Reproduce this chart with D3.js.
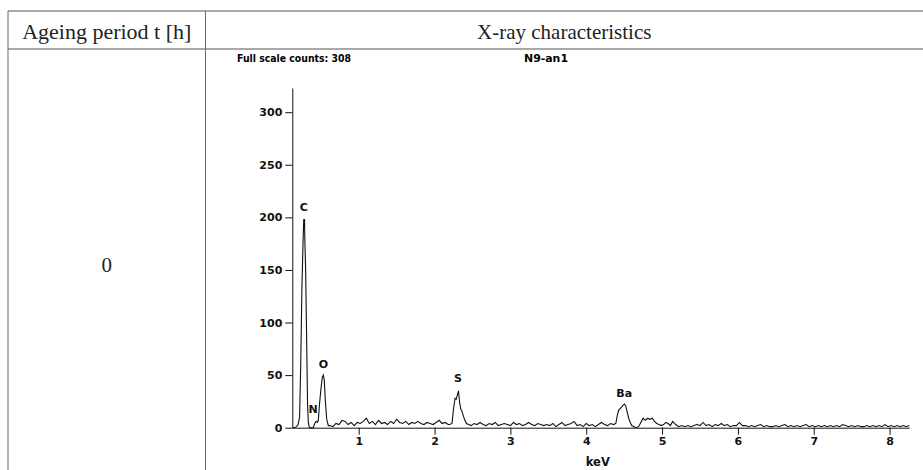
<!DOCTYPE html>
<html>
<head>
<meta charset="utf-8">
<script src="https://cdn.jsdelivr.net/npm/d3@7"></script>
<style>
  html, body { margin: 0; padding: 0; background: #fff; }
  svg { display: block; }
</style>
</head>
<body>
<svg id="chart" width="923" height="470"></svg>
<script>
// ---------- data ----------
const tableHeaders = ["Ageing period t [h]", "X-ray characteristics"];
const ageingPeriod = "0";
const fullScaleCounts = 308;
const sampleName = "N9-an1";

const yTicks = [0, 50, 100, 150, 200, 250, 300];
const xTicks = [1, 2, 3, 4, 5, 6, 7, 8];
const xDomain = [0.124, 8.26];
const yDomain = [0, 323];

// element labels [name, keV, counts at label]
const peakLabels = [
  ["C", 0.275, 206],
  ["N", 0.40, 14],
  ["O", 0.533, 57],
  ["S", 2.31, 43],
  ["Ba", 4.50, 29]
];

// spectrum [keV, counts]
const spectrumLow = [
  [0.124, 0], [0.15, 0], [0.18, 1], [0.20, 3], [0.22, 10], [0.235, 60],
  [0.25, 130], [0.265, 175], [0.275, 198], [0.285, 198], [0.29, 176],
  [0.30, 150], [0.31, 100], [0.318, 60], [0.325, 22], [0.335, 6],
  [0.345, 1], [0.36, 0], [0.38, 0], [0.40, 0], [0.42, 4], [0.437, 6],
  [0.455, 5], [0.467, 7], [0.48, 20], [0.499, 35], [0.52, 48], [0.533, 50],
  [0.546, 45], [0.56, 25], [0.578, 8], [0.599, 2]
];
const spectrumBaseline1 = [
  [0.62, 2], [0.66, 1], [0.70, 4], [0.74, 3], [0.78, 7], [0.82, 6],
  [0.86, 3], [0.90, 5], [0.94, 2], [0.98, 5], [1.02, 4], [1.06, 6],
  [1.10, 9], [1.14, 4], [1.18, 6], [1.22, 3], [1.26, 7], [1.30, 4],
  [1.34, 5], [1.38, 3], [1.42, 6], [1.46, 4], [1.50, 8], [1.54, 5],
  [1.58, 4], [1.62, 6], [1.66, 3], [1.70, 5], [1.74, 4], [1.78, 6],
  [1.82, 4], [1.86, 3], [1.90, 5], [1.94, 4], [1.98, 3], [2.02, 5],
  [2.06, 7], [2.10, 4], [2.14, 5], [2.18, 3]
];
const spectrumSulfur = [
  [2.20, 3], [2.23, 4], [2.25, 18], [2.27, 28], [2.285, 27], [2.30, 31],
  [2.315, 35], [2.33, 24], [2.345, 18], [2.36, 16], [2.38, 11], [2.40, 7],
  [2.42, 4], [2.45, 3]
];
const spectrumBaseline2 = [
  [2.48, 2], [2.52, 4], [2.56, 3], [2.60, 5], [2.64, 3], [2.68, 2],
  [2.72, 4], [2.76, 3], [2.80, 5], [2.84, 2], [2.88, 3], [2.92, 4],
  [2.96, 3], [3.00, 2], [3.04, 5], [3.08, 3], [3.12, 4], [3.16, 2],
  [3.20, 3], [3.24, 5], [3.28, 3], [3.32, 2], [3.36, 4], [3.40, 3],
  [3.44, 2], [3.48, 3], [3.52, 2], [3.56, 4], [3.60, 1], [3.64, 3],
  [3.68, 5], [3.72, 2], [3.76, 3], [3.80, 4], [3.84, 6], [3.88, 2],
  [3.92, 3], [3.96, 1], [4.00, 4], [4.04, 2], [4.08, 3], [4.12, 1],
  [4.16, 3], [4.20, 5], [4.24, 3], [4.28, 2], [4.32, 4], [4.36, 3]
];
const spectrumBarium = [
  [4.39, 4], [4.41, 12], [4.43, 17], [4.46, 19], [4.48, 21], [4.505, 22.5],
  [4.52, 21], [4.54, 15], [4.56, 9], [4.58, 5], [4.60, 2], [4.63, 1],
  [4.66, 0], [4.69, 1], [4.72, 5], [4.75, 9], [4.78, 7], [4.81, 9],
  [4.84, 8], [4.87, 9], [4.90, 6], [4.93, 4], [4.96, 3], [4.99, 2],
  [5.02, 3], [5.05, 5], [5.08, 4], [5.11, 2]
];
const spectrumHigh = [
  [5.14, 6], [5.18, 3], [5.22, 1], [5.26, 2], [5.30, 1], [5.34, 2],
  [5.38, 1], [5.42, 2], [5.46, 3], [5.50, 2], [5.54, 5], [5.58, 2],
  [5.62, 3], [5.66, 1], [5.70, 3], [5.74, 2], [5.78, 4], [5.82, 2],
  [5.86, 3], [5.90, 1], [5.94, 2], [5.98, 2], [6.02, 5], [6.06, 2],
  [6.10, 2], [6.14, 1], [6.18, 2], [6.22, 1], [6.26, 2], [6.30, 3],
  [6.34, 1], [6.38, 2], [6.42, 1], [6.46, 1], [6.50, 2], [6.54, 1],
  [6.58, 2], [6.62, 3], [6.66, 1], [6.70, 2], [6.74, 1], [6.78, 2],
  [6.82, 1], [6.86, 2], [6.90, 3], [6.94, 1], [6.98, 2], [7.02, 1],
  [7.06, 2], [7.10, 1], [7.14, 2], [7.18, 1], [7.22, 2], [7.26, 1],
  [7.30, 2], [7.34, 1], [7.38, 3], [7.42, 2], [7.46, 1], [7.50, 2],
  [7.54, 1], [7.58, 2], [7.62, 1], [7.66, 1], [7.70, 2], [7.74, 1],
  [7.78, 2], [7.82, 1], [7.86, 2], [7.90, 1], [7.94, 3], [7.98, 1],
  [8.02, 2], [8.06, 1], [8.10, 2], [8.14, 1], [8.18, 2], [8.22, 1],
  [8.26, 2]
];

// ---------- drawing ----------
const svg = d3.select("#chart");
const W = 923, H = 470;

// table grid
const tableTop = 11, rowLine = 49, leftX = 8, divX = 205.5;
const grid = svg.append("g");
grid.append("line").attr("x1", leftX).attr("x2", W).attr("y1", tableTop).attr("y2", tableTop)
  .attr("stroke", "#8c8c8c").attr("stroke-width", 1.5);
grid.append("line").attr("x1", leftX).attr("x2", W).attr("y1", rowLine).attr("y2", rowLine)
  .attr("stroke", "#8c8c8c").attr("stroke-width", 1.5);
grid.append("line").attr("x1", leftX).attr("x2", leftX).attr("y1", tableTop).attr("y2", H)
  .attr("stroke", "#6a6a6a").attr("stroke-width", 1);
grid.append("line").attr("x1", divX).attr("x2", divX).attr("y1", tableTop).attr("y2", H)
  .attr("stroke", "#6a6a6a").attr("stroke-width", 1);

const serif = "'Liberation Serif', 'DejaVu Serif', serif";
svg.append("text").attr("x", (leftX + divX) / 2).attr("y", 39)
  .attr("text-anchor", "middle").attr("font-family", serif).attr("font-size", 22)
  .attr("fill", "#222").text(tableHeaders[0]);
svg.append("text").attr("x", (divX + W) / 2).attr("y", 39)
  .attr("text-anchor", "middle").attr("font-family", serif).attr("font-size", 21)
  .attr("fill", "#222").text(tableHeaders[1]);
svg.append("text").attr("x", (leftX + divX) / 2).attr("y", 272)
  .attr("text-anchor", "middle").attr("font-family", serif).attr("font-size", 21)
  .attr("fill", "#222").text(ageingPeriod);

// chart
const sans = "'DejaVu Sans', Verdana, sans-serif";
const x = d3.scaleLinear().domain(xDomain).range([292.3, 909.3]);
const y = d3.scaleLinear().domain(yDomain).range([427.7, 88]);

svg.append("text").attr("x", 237).attr("y", 62)
  .attr("font-family", sans).attr("font-weight", "bold").attr("font-size", 11)
  .attr("textLength", 114).attr("lengthAdjust", "spacingAndGlyphs")
  .text("Full scale counts: " + fullScaleCounts);
svg.append("text").attr("x", 524).attr("y", 62)
  .attr("font-family", sans).attr("font-weight", "bold").attr("font-size", 11)
  .attr("textLength", 44).attr("lengthAdjust", "spacingAndGlyphs")
  .text(sampleName);

const yAxis = svg.append("g").attr("transform", `translate(${x.range()[0]},0)`)
  .call(d3.axisLeft(y).tickValues(yTicks).tickSize(7).tickPadding(3).tickSizeOuter(0));
const xAxis = svg.append("g").attr("transform", `translate(0,${y.range()[0]})`)
  .call(d3.axisBottom(x).tickValues(xTicks).tickSize(7).tickPadding(3).tickSizeOuter(0));
[yAxis, xAxis].forEach(a => {
  a.select(".domain").attr("stroke", "#111");
  a.selectAll(".tick line").attr("stroke", "#111");
  a.selectAll(".tick text").attr("font-family", sans).attr("font-weight", "bold")
    .attr("font-size", 11).attr("fill", "#111");
});

svg.append("text").attr("x", (x.range()[0] + x.range()[1]) / 2 - 3).attr("y", 466)
  .attr("text-anchor", "middle").attr("font-family", sans).attr("font-weight", "bold")
  .attr("font-size", 11.5).attr("fill", "#111").text("keV");

const spectrum = [].concat(spectrumLow, spectrumBaseline1, spectrumSulfur,
  spectrumBaseline2, spectrumBarium, spectrumHigh);
const line = d3.line().x(d => x(d[0])).y(d => y(d[1]));
svg.append("path").datum(spectrum).attr("d", line)
  .attr("fill", "none").attr("stroke", "#111").attr("stroke-width", 1.1);

svg.selectAll("text.peak").data(peakLabels).enter().append("text")
  .attr("class", "peak")
  .attr("x", d => x(d[1])).attr("y", d => y(d[2]))
  .attr("text-anchor", "middle").attr("font-family", sans).attr("font-weight", "bold")
  .attr("font-size", 11).attr("fill", "#111").text(d => d[0]);
</script>
</body>
</html>
